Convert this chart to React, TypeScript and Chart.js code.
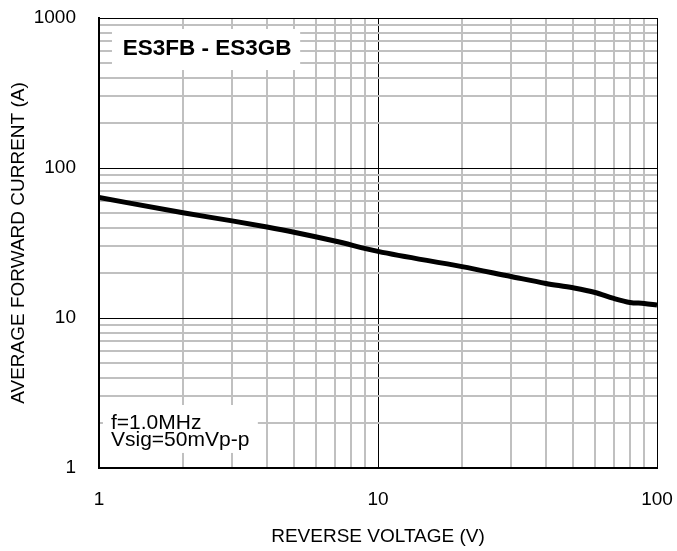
import React, { useEffect, useRef } from "react";
import { Chart, registerables } from "chart.js";

Chart.register(...registerables);

// Reverse voltage (V) sample points
const voltage = [1, 2, 3, 4, 5, 7, 10, 20, 30, 40, 50, 60, 70, 80, 90, 100];
// Current
const current = [63.6, 50.3, 44.4, 40.4, 37.3, 32.6, 27.8, 22.0, 18.9, 17.0, 15.9, 14.8, 13.5, 12.7, 12.5, 12.2];

const xTicks = [1, 2, 3, 4, 5, 6, 7, 8, 9, 10, 20, 30, 40, 50, 60, 70, 80, 90, 100];
const yTicks = [1, 2, 3, 4, 5, 6, 7, 8, 9, 10, 20, 30, 40, 50, 60, 70, 80, 90, 100, 200, 300, 400, 500, 600, 700, 800, 900, 1000];
const majorTicks = [1, 10, 100, 1000];

const titleText = "ES3FB - ES3GB";
const noteLines = ["f=1.0MHz", "Vsig=50mVp-p"];
const xTitle = "REVERSE VOLTAGE (V)";
const yTitle = "AVERAGE FORWARD CURRENT (A)";

const FONT = "Arial, 'Liberation Sans', Helvetica, sans-serif";

const isMajor = (v: number) => majorTicks.includes(v);

const noOverhang = (scale: any) => {
  scale.paddingTop = 0;
  scale.paddingBottom = 0;
  scale.paddingLeft = 0;
  scale.paddingRight = 0;
};

export default function App() {
  const ref = useRef<HTMLCanvasElement | null>(null);

  useEffect(() => {
    document.body.style.margin = "0";
    const canvas = ref.current;
    if (!canvas) return;

    const annotations = {
      id: "annotations",
      afterDraw(chart: any) {
        const ctx = chart.ctx;
        const xs = chart.scales.x;
        const ys = chart.scales.y;
        ctx.save();
        // Part-number label
        const left1 = xs.getPixelForValue(1.113);
        const right1 = xs.getPixelForValue(5.26);
        const top1 = ys.getPixelForValue(845);
        const bot1 = ys.getPixelForValue(450);
        ctx.fillStyle = "#ffffff";
        ctx.fillRect(left1, top1, right1 - left1, bot1 - top1);
        ctx.fillStyle = "#000000";
        ctx.font = `bold 22.5px ${FONT}`;
        ctx.textAlign = "center";
        ctx.textBaseline = "middle";
        ctx.fillText(titleText, (left1 + right1) / 2 + 1, (top1 + bot1) / 2 - 1);

        // Conditions label
        const left2 = xs.getPixelForValue(1.033);
        const right2 = xs.getPixelForValue(3.71);
        const top2 = ys.getPixelForValue(2.63);
        const bot2 = ys.getPixelForValue(1.26);
        ctx.fillStyle = "#ffffff";
        ctx.fillRect(left2, top2, right2 - left2, bot2 - top2);
        ctx.fillStyle = "#000000";
        ctx.font = `21px ${FONT}`;
        ctx.textAlign = "left";
        ctx.textBaseline = "alphabetic";
        const tx = xs.getPixelForValue(1.104);
        const base = ys.getPixelForValue(2);
        ctx.fillText(noteLines[0], tx, base + 6);
        ctx.fillText(noteLines[1], tx, base + 23);
        ctx.restore();
      },
    };

    const chart = new Chart(canvas, {
      type: "line",
      data: {
        datasets: [
          {
            data: voltage.map((v, i) => ({ x: v, y: current[i] })),
            borderColor: "#000000",
            borderWidth: 5,
            pointRadius: 0,
            fill: false,
            cubicInterpolationMode: "monotone",
          },
        ],
      },
      options: {
        responsive: false,
        animation: false,
        devicePixelRatio: 1,
        layout: { padding: { top: 18, right: 20, left: 0, bottom: 0 } },
        plugins: { legend: { display: false }, tooltip: { enabled: false } },
        scales: {
          x: {
            type: "logarithmic",
            min: 1,
            max: 100,
            afterBuildTicks: (scale: any) => {
              scale.ticks = xTicks.map((v) => ({ value: v }));
            },
            afterFit: (scale: any) => {
              scale.height = 83;
              noOverhang(scale);
            },
            ticks: {
              autoSkip: false,
              maxRotation: 0,
              padding: 20,
              color: "#000000",
              font: { family: FONT, size: 19 },
              callback: (v: any) => (isMajor(Number(v)) ? String(v) : ""),
            },
            grid: {
              drawTicks: false,
              color: (c: any) => (isMajor(c.tick?.value) ? "#000000" : "#c0c0c0"),
              lineWidth: (c: any) => (isMajor(c.tick?.value) ? 1 : 2),
            },
            border: { display: true, color: "#000000", width: 2 },
            title: {
              display: true,
              text: xTitle,
              color: "#000000",
              font: { family: FONT, size: 19 },
              padding: { top: 0, bottom: 3 },
            },
          },
          y: {
            type: "logarithmic",
            min: 1,
            max: 1000,
            afterBuildTicks: (scale: any) => {
              scale.ticks = yTicks.map((v) => ({ value: v }));
            },
            afterFit: (scale: any) => {
              scale.width = 99;
              noOverhang(scale);
            },
            ticks: {
              autoSkip: false,
              padding: 23,
              color: "#000000",
              font: { family: FONT, size: 19 },
              callback: (v: any) => (isMajor(Number(v)) ? String(v) : ""),
            },
            grid: {
              drawTicks: false,
              color: (c: any) => (isMajor(c.tick?.value) ? "#000000" : "#c0c0c0"),
              lineWidth: (c: any) => (isMajor(c.tick?.value) ? 1 : 2),
            },
            border: { display: true, color: "#000000", width: 2 },
            title: {
              display: true,
              text: yTitle,
              color: "#000000",
              font: { family: FONT, size: 19 },
              padding: { top: 7, bottom: 0 },
            },
          },
        },
      },
      plugins: [annotations],
    } as any);

    return () => chart.destroy();
  }, []);

  return (
    <div style={{ position: "absolute", left: 0, top: 0, width: 677, height: 551 }}>
      <canvas ref={ref} width={677} height={551} />
    </div>
  );
}
